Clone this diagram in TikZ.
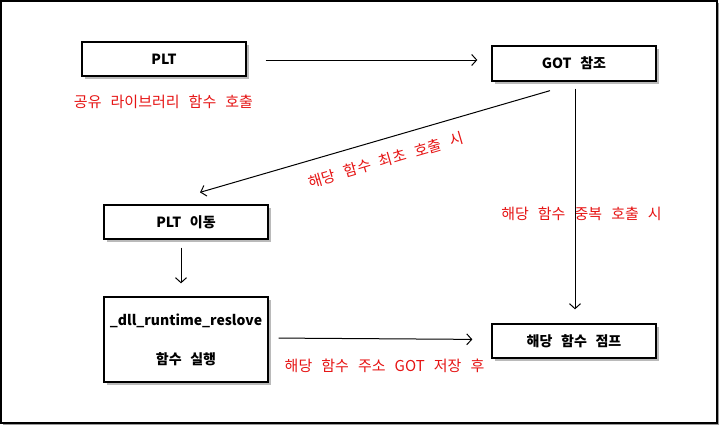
\documentclass[tikz,border=0pt]{standalone}
\usepackage{fontspec}
\setmainfont{Noto Sans CJK KR}[WordSpace=2.7]
\usetikzlibrary{arrows.meta,shadows,calc}
\definecolor{lblred}{RGB}{230,20,20}
\tikzset{
  box/.style={draw=black, line width=1.3pt, fill=white, minimum width=164pt, minimum height=34pt,
    inner sep=0pt, font=\fontsize{14}{17}\selectfont\bfseries,
    drop shadow={shadow xshift=2.5pt, shadow yshift=-2.5pt, fill=black!45, opacity=0.6}},
  lbl/.style={text=lblred, font=\fontsize{15}{18}\selectfont, inner sep=0pt},
  conn/.style={line width=1pt, -{Straight Barb[length=5pt,width=11pt,line width=1pt]}}
}
\begin{document}
\begin{tikzpicture}[x=1pt,y=-1pt]
\useasboundingbox (0,0) rectangle (720,426);
\fill[white] (0,0) rectangle (720,426);
\draw[black!40, line width=1.5pt] (3,424.5) -- (718.5,424.5) -- (718.5,3);
\draw[black, line width=1.5pt] (1,1) rectangle (717,423);

\node[box] (plt) at (164,59) {PLT};
\node[box, minimum height=35pt] (got) at (574,63.5) {GOT 참조};
\node[box] (move) at (186,222) {PLT 이동};
\node[box, minimum height=85pt, align=center] (dll) at (186,339.5) {\_dll\_runtime\_reslove\\[22pt]함수 실행};
\node[box] (jump) at (574,341) {해당 함수 점프};

\node[lbl] (l1) at (163.5,102) {공유 라이브러리 함수 호출};
\node[lbl, rotate=16.4] (l2) at (386,160) {해당 함수 최초 호출 시};
\node[lbl] (l3) at (581.5,214) {해당 함수 중복 호출 시};
\node[lbl] (l4) at (384.5,366) {해당 함수 주소 GOT 저장 후};

\draw[conn, shorten <=19pt, shorten >=14pt] ([yshift=-1]plt.east) -- ([yshift=-1]plt.east -| got.west);
\draw[conn] ($(got.south)+(-24,9)$) -- ($(move.north)+(14,-12)$);
\draw[conn, shorten <=7pt, shorten >=14pt] ([xshift=1]got.south) -- ([xshift=1]jump.north);
\draw[conn, shorten <=8pt, shorten >=13pt] ([xshift=-5]move.south) -- ([xshift=-5]dll.north);
\draw[conn, shorten <=10pt, shorten >=19pt] ([yshift=1.5]dll.east) -- (dll.east -| jump.west);
\end{tikzpicture}
\end{document}
